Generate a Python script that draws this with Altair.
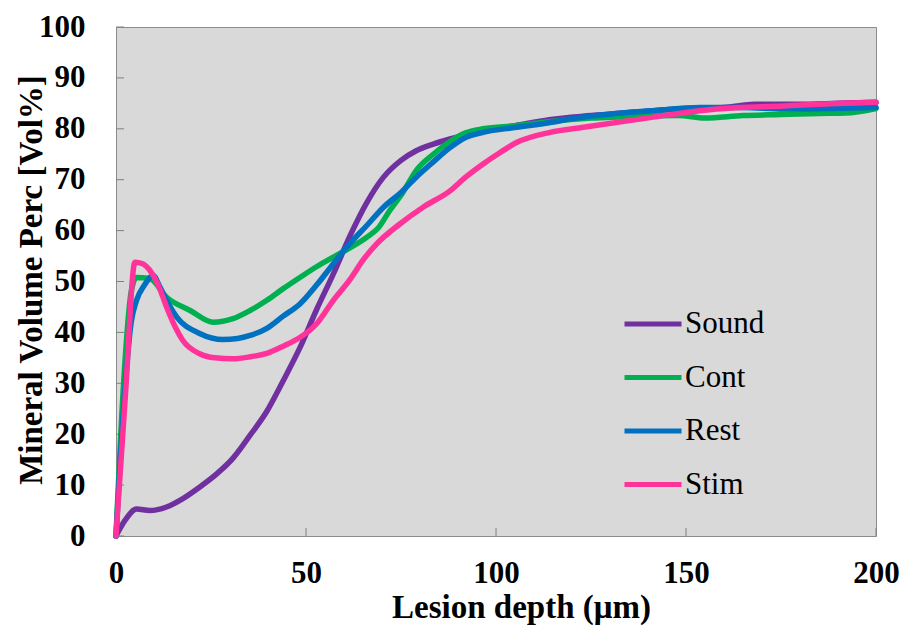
import altair as alt
import pandas as pd

# Series labels and colours
series_names = ["Sound", "Cont", "Rest", "Stim"]
series_colors = ["#7030a0", "#00b050", "#0070c0", "#ff3399"]

# Mineral volume profiles (depth in µm, mineral volume in Vol%)
sound_x = [0, 2.5, 5.4, 8.9, 13.3, 17.5, 22, 26.5, 30.8, 35.3, 39.7, 44, 48.4, 52.8, 57.2, 61.6, 66,
           70.4, 75, 79, 83.5, 87.9, 95, 105, 114, 125, 137, 150, 160, 168, 180, 190, 200]
sound_y = [0, 3.2, 5.3, 5.0, 5.7, 7.3, 9.6, 12.2, 15.3, 19.8, 24.5, 30.5, 37, 44.5, 51.5, 59, 65.5,
           70.5, 73.8, 75.7, 77.0, 78.0, 79.3, 80.6, 81.8, 82.6, 83.3, 84.0, 84.2, 84.8, 84.8, 85.0, 85.2]

cont_x = [0, 2, 4, 5.4, 8.9, 13.3, 19.5, 25.6, 30.8, 35.3, 39.7, 44, 48.4, 53, 57.2, 62, 66, 69, 72,
          75.5, 79, 83.5, 87.9, 92, 96.6, 105, 114, 125, 140, 148, 155, 165, 175, 185, 192, 200]
cont_y = [0, 30, 48, 50.8, 50.6, 46.9, 44.3, 42.0, 42.7, 44.3, 46.3, 48.6, 50.8, 53, 54.8, 56.8, 58.7,
          60.5, 63.9, 67.5, 71.8, 75, 77.5, 79.2, 80.0, 80.6, 81.4, 82.1, 82.5, 82.6, 82.1, 82.6, 82.8,
          83.0, 83.1, 84.0]

rest_x = [0, 2, 4, 5.4, 7.5, 9.8, 11.5, 13.3, 16, 22, 28.2, 32, 35.3, 39.7, 44, 48.4, 53, 57.2, 61,
          66, 70.4, 75, 79, 83.5, 87.9, 92, 96.6, 105.4, 114, 120, 131.7, 142, 153.7, 165, 175.6, 188, 200]
rest_y = [0, 25, 42, 46.3, 49.3, 51.2, 49.0, 46.3, 43.0, 39.8, 38.6, 38.8, 39.4, 40.8, 43.2, 45.6,
          49.5, 53.5, 57, 61, 64.6, 67.5, 70.5, 73.5, 76.3, 78.3, 79.3, 80.3, 81.2, 82.0, 83.0, 83.6,
          84.2, 84.2, 83.9, 84.0, 84.2]

stim_x = [0, 2.5, 5, 7, 8.9, 11, 13.3, 15.5, 17.6, 22, 26, 30.8, 35.3, 39.7, 44, 48.4, 52.8, 57.2,
          61.6, 65, 68.6, 74.7, 80.8, 87.9, 92, 96.6, 101, 105.4, 114.2, 123, 140.5, 158, 175.6, 188, 200]
stim_y = [0, 28, 53.8, 53.5, 52.2, 49.5, 45, 41.2, 38.4, 35.8, 35.0, 34.8, 35.2, 35.9, 37.3, 39.0,
          41.7, 46.3, 50.4, 54.2, 57.4, 61.3, 64.6, 67.8, 70.5, 73.1, 75.3, 77.3, 79.3, 80.3, 82.2,
          83.9, 84.5, 84.9, 85.2]

x_ticks = [0, 50, 100, 150, 200]
y_ticks = [0, 10, 20, 30, 40, 50, 60, 70, 80, 90, 100]

rows = []
for name, xs, ys in [("Sound", sound_x, sound_y), ("Cont", cont_x, cont_y),
                     ("Rest", rest_x, rest_y), ("Stim", stim_x, stim_y)]:
    for i, (a, b) in enumerate(zip(xs, ys)):
        rows.append({"series": name, "depth": a, "mineral": b, "idx": i})
df = pd.DataFrame(rows)

W, H = 760, 509
FONT = "'Liberation Serif', 'Times New Roman', serif"

x_scale = alt.Scale(domain=[0, 200], nice=False, zero=False)
y_scale = alt.Scale(domain=[0, 100], nice=False)

lines = alt.Chart(df).mark_line(
    strokeWidth=5.5, interpolate="monotone", strokeCap="round", strokeJoin="round"
).encode(
    x=alt.X("depth:Q", scale=x_scale,
            axis=alt.Axis(values=x_ticks, title="Lesion depth (μm)", grid=False, domain=False,
                          ticks=False, labelPadding=22, titlePadding=3, titleX=405,
                          labelFlush=False, labelOverlap=False)),
    y=alt.Y("mineral:Q", scale=y_scale,
            axis=alt.Axis(values=y_ticks, title="Mineral Volume Perc [Vol%]", grid=False,
                          domain=False, ticks=False, labelPadding=31,
                          titleX=-85, titleY=H / 2 - 2, titleBaseline="middle",
                          labelFlush=False, labelOverlap=False)),
    color=alt.Color("series:N", scale=alt.Scale(domain=series_names, range=series_colors),
                    legend=alt.Legend(title=None, orient="none", legendX=506, legendY=266,
                                      symbolType="stroke", symbolSize=3249, symbolStrokeWidth=5,
                                      labelFont=FONT, labelFontSize=31, labelColor="black",
                                      labelFontWeight="normal", labelOffset=1, rowPadding=7.5)),
    order="idx:Q",
)

# Inward tick marks along the left and bottom edges
ytick_df = pd.DataFrame({"v": y_ticks})
xtick_df = pd.DataFrame({"v": x_ticks})
y_tick_marks = alt.Chart(ytick_df).mark_rule(color="#808080", strokeWidth=1).encode(
    y=alt.Y("v:Q", scale=y_scale), x=alt.value(0), x2=alt.value(8)
)
x_tick_marks = alt.Chart(xtick_df).mark_rule(color="#808080", strokeWidth=1).encode(
    x=alt.X("v:Q", scale=x_scale), y=alt.value(H), y2=alt.value(H - 8)
)

chart = alt.layer(y_tick_marks, x_tick_marks, lines).properties(
    width=W, height=H,
    padding={"left": 116, "top": 27, "right": 28, "bottom": 91},
    autosize=alt.AutoSizeParams(type="none"),
    background="white",
).configure(
    font=FONT
).configure_view(
    fill="#d9d9d9", stroke="#8c8c8c", strokeWidth=1
).configure_axis(
    labelFont=FONT, labelFontSize=31, labelFontWeight="bold", labelColor="black",
    titleFont=FONT, titleFontSize=33, titleFontWeight="bold", titleColor="black",
).configure_legend(
    labelFont=FONT, labelFontSize=31, labelColor="black"
)

chart.save("out.html", embed_options={"renderer": "svg", "actions": False})
